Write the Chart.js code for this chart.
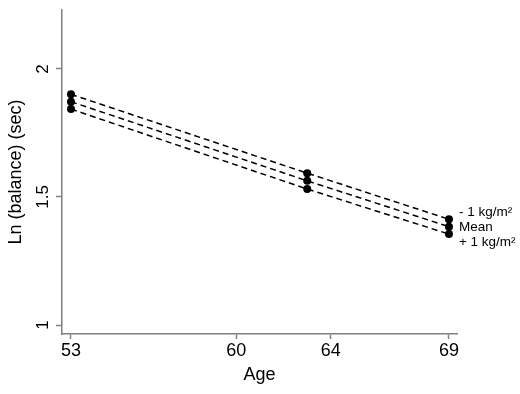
<!DOCTYPE html>
<html>
<head>
<meta charset="utf-8">
<script src="https://cdn.jsdelivr.net/npm/chart.js@4"></script>
<style>
  html, body { margin: 0; padding: 0; background: #fff; }
  #wrap { width: 520px; height: 394px; }
</style>
</head>
<body>
<div id="wrap"><canvas id="chart"></canvas></div>
<script>
const ages = [53, 63, 69];
const minus1 = [1.901, 1.593, 1.413];
const mean = [1.872, 1.563, 1.384];
const plus1 = [1.843, 1.531, 1.355];
const seriesNames = ['- 1 kg/m\u00b2', 'Mean', '+ 1 kg/m\u00b2'];
const xTicks = [53, 60, 64, 69];
const yTicks = [1, 1.5, 2];

const FONT = 'Arial, "Liberation Sans", sans-serif';
const AXIS = '#808080';

function makeSet(label, values) {
  return {
    label: label,
    data: ages.map((a, i) => ({ x: a, y: values[i] })),
    borderColor: '#000',
    backgroundColor: '#000',
    borderWidth: 1.5,
    borderDash: [6, 4],
    pointRadius: 4,
    pointBackgroundColor: '#000',
    pointBorderWidth: 0,
    tension: 0
  };
}

// rotated y tick labels and the series labels at the right end
const extraText = {
  id: 'extraText',
  afterDraw(chart) {
    const ctx = chart.ctx;
    const x = chart.scales.x, y = chart.scales.y;
    ctx.save();
    ctx.fillStyle = '#000';
    ctx.font = '17px ' + FONT;
    ctx.textAlign = 'center';
    ctx.textBaseline = 'middle';
    yTicks.forEach(v => {
      ctx.save();
      ctx.translate(43, y.getPixelForValue(v));
      ctx.rotate(-Math.PI / 2);
      ctx.fillText(String(v), 0, 0);
      ctx.restore();
    });
    ctx.font = '13.5px ' + FONT;
    ctx.textAlign = 'left';
    const xr = x.getPixelForValue(ages[ages.length - 1]) + 10;
    const ym = y.getPixelForValue(mean[mean.length - 1]);
    ctx.fillText(seriesNames[0], xr, ym - 14);
    ctx.fillText(seriesNames[1], xr, ym + 1);
    ctx.fillText(seriesNames[2], xr, ym + 16);
    ctx.restore();
  }
};

new Chart(document.getElementById('chart'), {
  type: 'line',
  data: {
    datasets: [makeSet(seriesNames[0], minus1), makeSet(seriesNames[1], mean), makeSet(seriesNames[2], plus1)]
  },
  options: {
    responsive: true,
    maintainAspectRatio: false,
    animation: false,
    layout: { padding: { top: 10, right: 63, left: 0, bottom: 0 } },
    plugins: { legend: { display: false }, tooltip: { enabled: false } },
    scales: {
      x: {
        type: 'linear',
        min: 52.62,
        max: 69.34,
        afterBuildTicks: s => { s.ticks = xTicks.map(v => ({ value: v })); },
        afterFit: s => { s.height = 60; },
        border: { color: AXIS, width: 1.5 },
        grid: { drawOnChartArea: false, tickLength: 5, color: AXIS, tickWidth: 1.5 },
        ticks: { color: '#000', font: { family: FONT, size: 18 }, padding: 1, maxRotation: 0 },
        title: { display: true, text: 'Age', color: '#000', font: { family: FONT, size: 18 }, padding: { top: 0, bottom: 8 } }
      },
      y: {
        min: 0.965,
        max: 2.23,
        afterBuildTicks: s => { s.ticks = yTicks.map(v => ({ value: v })); },
        afterFit: s => { s.width = 62; },
        border: { color: AXIS, width: 1.5 },
        grid: { drawOnChartArea: false, tickLength: 6, color: AXIS, tickWidth: 1.5 },
        ticks: { display: false },
        title: { display: true, text: 'Ln (balance) (sec)', color: '#000', font: { family: FONT, size: 18 }, padding: { top: 5, bottom: 0 } }
      }
    }
  },
  plugins: [extraText]
});
</script>
</body>
</html>
